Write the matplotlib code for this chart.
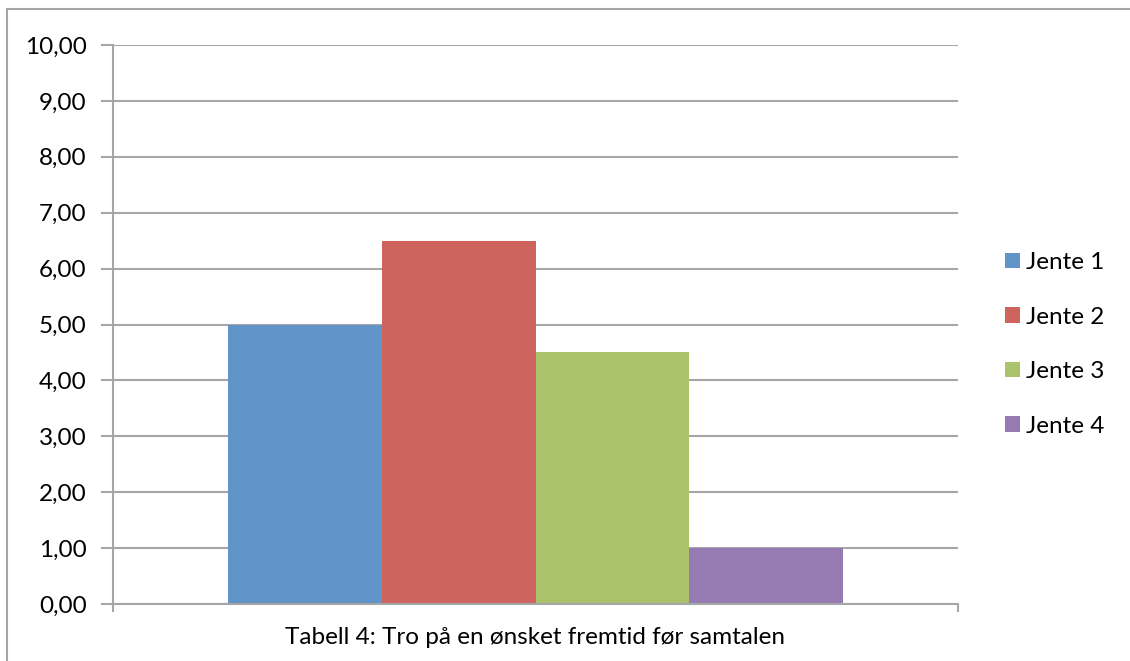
import matplotlib.pyplot as plt
from matplotlib.lines import Line2D

# scores per girl
names = ['Jente 1', 'Jente 2', 'Jente 3', 'Jente 4']
scores = [5.0, 6.5, 4.5, 1.0]
colors = ['#6194C9', '#CD645D', '#ABC46C', '#957BB2']
yticks = [0, 1, 2, 3, 4, 5, 6, 7, 8, 9, 10]
caption = 'Tabell 4: Tro på en ønsket fremtid før samtalen'

plt.rcParams['font.family'] = ['Lato', 'DejaVu Sans']

fig = plt.figure(figsize=(11.3, 6.61), dpi=100)
ax = fig.add_axes([113 / 1130, 1 - 604 / 661, 845 / 1130, 559 / 661])

grey = '#A6A6A6'
fs = 17.5
bar_w = 0.182
start = 0.5 - bar_w * len(names) / 2
for i, (n, v, c) in enumerate(zip(names, scores, colors)):
    ax.bar(start + i * bar_w, v, width=bar_w, align='edge', color=c, label=n, zorder=3)

ax.set_xlim(0, 1)
ax.set_ylim(0, 10)
ax.set_yticks(yticks)
ax.yaxis.set_major_formatter(plt.FuncFormatter(lambda v, p: ('%.2f' % v).replace('.', ',')))
ax.set_xticks([0, 1])
ax.set_xticklabels([])
ax.tick_params(axis='x', direction='out', length=6, width=1.5, color=grey)
ax.tick_params(axis='y', direction='out', length=9, width=1.5, color=grey,
               labelsize=fs, pad=10)
ax.grid(axis='y', color=grey, linewidth=1.5, zorder=0)
for s in ['top', 'right']:
    ax.spines[s].set_visible(False)
for s in ['left', 'bottom']:
    ax.spines[s].set_color(grey)
    ax.spines[s].set_linewidth(1.5)
ax.spines['bottom'].set_zorder(4)

leg = fig.legend(loc='upper left', bbox_to_anchor=(1005 / 1130, 1 - 252 / 661),
                 frameon=False, fontsize=fs, handlelength=0.62, handleheight=0.62,
                 handletextpad=0.25, labelspacing=1.38, borderaxespad=0, borderpad=0)

fig.text(535 / 1130, 1 - 638 / 661, caption, ha='center', va='center', fontsize=fs)

# outer frame
fig.add_artist(Line2D([7 / 1130, 7 / 1130], [0, 1 - 9 / 661], color=grey, linewidth=1.5))
fig.add_artist(Line2D([7 / 1130, 1], [1 - 9 / 661, 1 - 9 / 661], color=grey, linewidth=1.5))

fig.savefig('out.png', dpi=100)
